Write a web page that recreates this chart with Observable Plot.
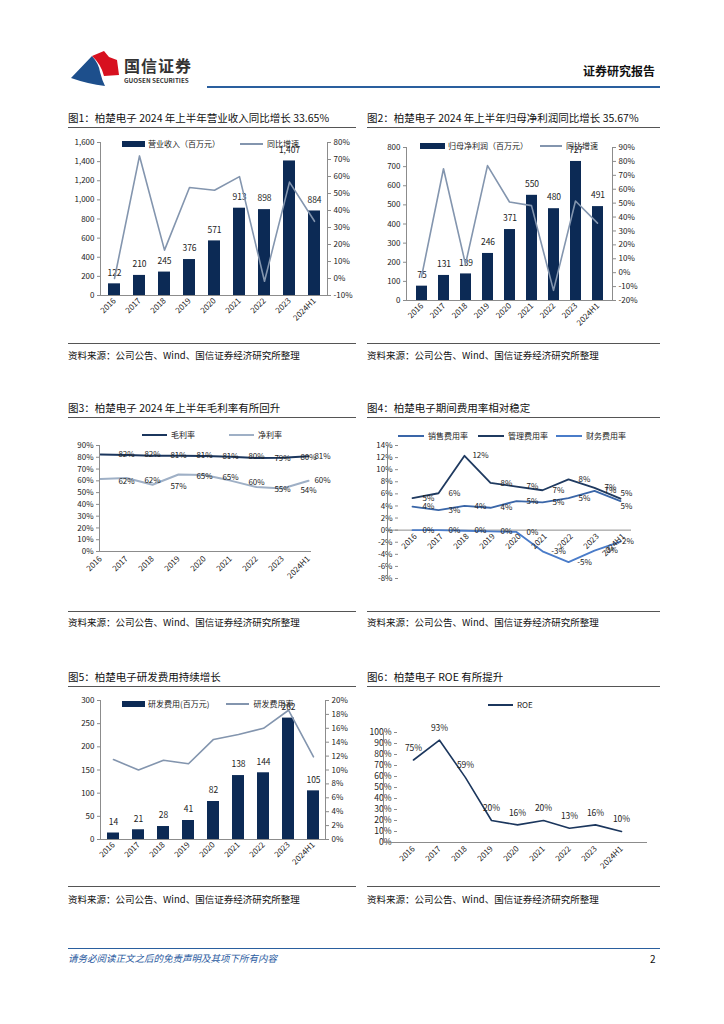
<!DOCTYPE html>
<html><head><meta charset="utf-8">
<script src="https://cdn.jsdelivr.net/npm/d3@7"></script>
<script src="https://cdn.jsdelivr.net/npm/@observablehq/plot@0.6"></script>
<style>
body{margin:0;background:#fff;font-family:"Noto Sans CJK SC","Noto Sans",sans-serif;}
#page{position:relative;width:724px;height:1024px;overflow:hidden;background:#fff;}
.abs{position:absolute;white-space:nowrap;}
.ptitle{font-size:10.5px;color:#111;line-height:14px;}
.rule{position:absolute;height:0;border-top:1px solid #555;}
.src{font-size:9.5px;color:#111;line-height:12px;}
.legend{position:absolute;font-size:8px;color:#222;white-space:nowrap;display:flex;align-items:center;line-height:10px;}
.sw-bar{display:inline-block;width:23px;height:6px;background:#0c2a55;margin-right:3px;}
.sw-line{display:inline-block;width:23px;height:0;border-top:2px solid #000;margin-right:4px;}
.gap{display:inline-block;}
</style>
</head>
<body>
<div id="page">
  <!-- header -->
  <svg class="abs" style="left:66px;top:48px" width="56" height="40" viewBox="66 48 56 40">
    <path d="M71,78 L92,56 Q99,64 100,72 Q102,80 105,86 Q88,84 71,78 Z" fill="#1d4f8c"/>
    <path d="M92,56 L104,51 L109,57 L117,60 L119,75 L104,76 Q101,64 92,56 Z" fill="#d7101f"/>
  </svg>
  <div class="abs" style="left:124px;top:53px;font-size:16px;font-weight:bold;color:#333;letter-spacing:1px;">国信证券</div>
  <div class="abs" style="left:124px;top:76px;font-size:6.3px;font-weight:bold;color:#333;">GUOSEN SECURITIES</div>
  <div class="abs" style="right:69px;top:62px;font-size:12px;font-weight:bold;color:#111;">证券研究报告</div>
  <div class="abs" style="left:207px;top:86px;width:453px;height:2px;background:#2a5f9e;"></div>

  <!-- row 1 -->
  <div class="abs ptitle" style="left:68px;top:111px;">图1：柏楚电子 2024 年上半年营业收入同比增长 33.65%</div>
  <div class="abs ptitle" style="left:367px;top:111px;">图2：柏楚电子 2024 年上半年归母净利润同比增长 35.67%</div>
  <div class="rule" style="left:68px;top:127px;width:288px;"></div>
  <div class="rule" style="left:367px;top:127px;width:293px;"></div>
  <div class="rule" style="left:68px;top:343px;width:288px;"></div>
  <div class="rule" style="left:367px;top:343px;width:293px;"></div>
  <div class="abs src" style="left:68px;top:349px;">资料来源：公司公告、Wind、国信证券经济研究所整理</div>
  <div class="abs src" style="left:367px;top:349px;">资料来源：公司公告、Wind、国信证券经济研究所整理</div>

  <!-- row 2 -->
  <div class="abs ptitle" style="left:68px;top:401px;">图3：柏楚电子 2024 年上半年毛利率有所回升</div>
  <div class="abs ptitle" style="left:367px;top:401px;">图4：柏楚电子期间费用率相对稳定</div>
  <div class="rule" style="left:68px;top:417px;width:288px;"></div>
  <div class="rule" style="left:367px;top:417px;width:293px;"></div>
  <div class="rule" style="left:68px;top:611px;width:288px;"></div>
  <div class="rule" style="left:367px;top:611px;width:293px;"></div>
  <div class="abs src" style="left:68px;top:616px;">资料来源：公司公告、Wind、国信证券经济研究所整理</div>
  <div class="abs src" style="left:367px;top:616px;">资料来源：公司公告、Wind、国信证券经济研究所整理</div>

  <!-- row 3 -->
  <div class="abs ptitle" style="left:68px;top:670px;">图5：柏楚电子研发费用持续增长</div>
  <div class="abs ptitle" style="left:367px;top:670px;">图6：柏楚电子 ROE 有所提升</div>
  <div class="rule" style="left:68px;top:686px;width:288px;"></div>
  <div class="rule" style="left:367px;top:686px;width:293px;"></div>
  <div class="rule" style="left:68px;top:886px;width:288px;"></div>
  <div class="rule" style="left:367px;top:886px;width:293px;"></div>
  <div class="abs src" style="left:68px;top:893px;">资料来源：公司公告、Wind、国信证券经济研究所整理</div>
  <div class="abs src" style="left:367px;top:893px;">资料来源：公司公告、Wind、国信证券经济研究所整理</div>

  <!-- footer -->
  <div class="abs" style="left:68px;top:948px;width:592px;height:0;border-top:1px solid #2a5f9e;"></div>
  <div class="abs" style="left:68px;top:951px;font-size:9.5px;font-style:italic;color:#2a5aa0;">请务必阅读正文之后的免责声明及其项下所有内容</div>
  <div class="abs" style="left:650px;top:951px;font-size:10px;color:#111;">2</div>
</div>
<script>
// ---------------- data ----------------
const years = ["2016","2017","2018","2019","2020","2021","2022","2023","2024H1"];

const revenue = [122, 210, 245, 376, 571, 913, 898, 1407, 884];           // 百万元
const revenueGrowth = [0, 72.1, 16.7, 53.5, 51.9, 59.9, -1.6, 56.7, 33.65]; // %
const revenueTicks = [0, 200, 400, 600, 800, 1000, 1200, 1400, 1600];
const revenueGrowthTicks = [-10, 0, 10, 20, 30, 40, 50, 60, 70, 80];

const netProfit = [75, 131, 139, 246, 371, 550, 480, 727, 491];
const netProfitGrowth = [-3, 74.7, 6.1, 77.0, 50.8, 48.2, -12.7, 51.5, 35.67];
const netProfitTicks = [0, 100, 200, 300, 400, 500, 600, 700, 800];
const netProfitGrowthTicks = [-20, -10, 0, 10, 20, 30, 40, 50, 60, 70, 80, 90];

const grossMargin = [82.3, 82.0, 81.4, 81.4, 81.1, 80.4, 79.4, 79.7, 80.8];
const netMargin = [61.5, 62.4, 56.7, 65.4, 65.0, 60.2, 54.7, 53.5, 60.0];
const marginTicks = [0, 10, 20, 30, 40, 50, 60, 70, 80, 90];

const salesRate = [3.9, 3.3, 4.0, 3.7, 4.8, 4.6, 5.3, 6.5, 4.8];
const adminRate = [5.3, 6.1, 12.3, 7.8, 7.2, 6.6, 8.4, 7.0, 5.2];
const financeRate = [0, 0, -0.1, -0.2, -0.3, -3.5, -5.3, -3.4, -1.9];
const expenseTicks = [-8, -6, -4, -2, 0, 2, 4, 6, 8, 10, 12, 14];

const rdExpense = [14, 21, 28, 41, 82, 138, 144, 262, 105];
const rdRate = [11.5, 10.0, 11.4, 10.9, 14.4, 15.1, 16.0, 18.6, 11.9];
const rdTicks = [0, 50, 100, 150, 200, 250, 300];
const rdRateTicks = [0, 2, 4, 6, 8, 10, 12, 14, 16, 18, 20];

const roe = [75, 93, 59, 20, 16, 20, 13, 16, 10];
const roeTicks = [0, 10, 20, 30, 40, 50, 60, 70, 80, 90, 100];

// ---------------- helpers ----------------
const page = document.getElementById("page");
const FONT = '"Noto Sans CJK SC","Noto Sans",sans-serif';
const NAVY = "#0c2a55";
const GRAYBLUE = "#8395ae";
const AXIS = "#8c8c8c";
const baseStyle = {fontFamily: FONT, fontSize: "8px", color: "#222", background: "transparent", overflow: "visible"};
const pct = d => d + "%";
const pctR = v => Math.round(v) + "%";

function place(svg, g) {
  svg.style.position = "absolute";
  svg.style.left = g.left + "px";
  svg.style.top = g.top + "px";
  page.appendChild(svg);
}
function frameOpts(g) {
  return {width: g.width, height: g.height, marginLeft: g.marginLeft, marginRight: g.marginRight,
          marginTop: g.marginTop, marginBottom: g.marginBottom, style: baseStyle};
}
function legend(left, top, items) {
  const div = document.createElement("div");
  div.className = "legend";
  div.style.left = left + "px";
  div.style.top = top + "px";
  items.forEach((it, i) => {
    const sw = document.createElement("span");
    if (it.type === "bar") { sw.className = "sw-bar"; sw.style.background = it.color; sw.style.width = it.w + "px"; }
    else { sw.className = "sw-line"; sw.style.borderTopColor = it.color; sw.style.width = it.w + "px"; }
    const tx = document.createElement("span");
    tx.textContent = it.label;
    div.appendChild(sw); div.appendChild(tx);
    if (i < items.length - 1) { const g = document.createElement("span"); g.className = "gap"; g.style.width = it.gap + "px"; div.appendChild(g); }
  });
  page.appendChild(div);
}
const bandX = {domain: years, paddingInner: 0.52, paddingOuter: 0.26, label: null};

function barLineChart(g, barVals, lineVals, yDomain, yTicks, y2Domain, y2Ticks, barFmt) {
  const t = years.map((year, i) => ({year, v: barVals[i], g: lineVals[i]}));
  place(Plot.plot({...frameOpts(g), x: bandX, y: {domain: yDomain, label: null},
    marks: [
      Plot.barY(t, {x: "year", y: "v", fill: NAVY}),
      Plot.text(t, {x: "year", y: "v", text: d => barFmt(d.v), dy: -11, fontSize: 8.5, fill: "#222"}),
      Plot.axisY({ticks: yTicks, tickFormat: d3.format(","), tickSize: 3, tickPadding: 3, stroke: AXIS, label: null}),
      Plot.axisX({tickRotate: -45, tickSize: 0, tickPadding: 4, label: null}),
      Plot.ruleY([yDomain[0]], {stroke: AXIS}),
      Plot.frame({anchor: "left", stroke: AXIS})
    ]}), g);
  place(Plot.plot({...frameOpts(g), x: {...bandX, axis: null}, y: {domain: y2Domain, label: null},
    marks: [
      Plot.lineY(t, {x: "year", y: "g", stroke: GRAYBLUE, strokeWidth: 1.6}),
      Plot.axisY({anchor: "right", ticks: y2Ticks, tickFormat: pct, tickSize: 3, tickPadding: 3, stroke: AXIS, label: null}),
      Plot.frame({anchor: "right", stroke: AXIS})
    ]}), g);
}

// ---------------- chart 1 ----------------
const G1 = {left: 60, top: 130, width: 300, height: 205, marginLeft: 40, marginRight: 33, marginTop: 12, marginBottom: 40};
barLineChart(G1, revenue, revenueGrowth, [0, 1600], revenueTicks, [-10, 80], revenueGrowthTicks, d3.format(","));
legend(122, 139, [{type: "bar", color: NAVY, w: 23, label: "营业收入（百万元）", gap: 20},
                  {type: "line", color: GRAYBLUE, w: 23, label: "同比增速"}]);

// ---------------- chart 2 ----------------
const G2 = {left: 365, top: 130, width: 300, height: 210, marginLeft: 41, marginRight: 53, marginTop: 17, marginBottom: 40};
barLineChart(G2, netProfit, netProfitGrowth, [0, 800], netProfitTicks, [-20, 90], netProfitGrowthTicks, d3.format(","));
legend(420, 141, [{type: "bar", color: NAVY, w: 25, label: "归母净利润（百万元）", gap: 12},
                  {type: "line", color: GRAYBLUE, w: 22, label: "同比增速"}]);

// ---------------- chart 3 ----------------
const G3 = {left: 60, top: 425, width: 300, height: 175, marginLeft: 39, marginRight: 52, marginTop: 20, marginBottom: 49};
const t3 = years.map((year, i) => ({year, gm: grossMargin[i], nm: netMargin[i]}));
const GM_COLOR = "#1b365d", NM_COLOR = "#9fb0c6";
const last = (d, i) => i === years.length - 1;
const notLast = (d, i) => i < years.length - 1;
place(Plot.plot({...frameOpts(G3),
  x: {type: "point", domain: years, padding: 0, label: null}, y: {domain: [0, 90], label: null},
  marks: [
    Plot.lineY(t3, {x: "year", y: "nm", stroke: NM_COLOR, strokeWidth: 2}),
    Plot.lineY(t3, {x: "year", y: "gm", stroke: GM_COLOR, strokeWidth: 2}),
    Plot.text(t3, {filter: notLast, x: "year", y: "gm", text: d => pctR(d.gm), dx: 26, fontSize: 8, fill: "#222"}),
    Plot.text(t3, {filter: last, x: "year", y: "gm", text: d => pctR(d.gm), dx: 14, fontSize: 8, fill: "#222"}),
    Plot.text(t3, {filter: notLast, x: "year", y: "nm", text: d => pctR(d.nm), dx: 26, dy: 2, fontSize: 8, fill: "#222"}),
    Plot.text(t3, {filter: last, x: "year", y: "nm", text: d => pctR(d.nm), dx: 14, fontSize: 8, fill: "#222"}),
    Plot.axisY({ticks: marginTicks, tickFormat: pct, tickSize: 3, tickPadding: 3, stroke: AXIS, label: null}),
    Plot.axisX({tickRotate: -45, tickSize: 0, tickPadding: 6, label: null}),
    Plot.ruleY([0], {stroke: AXIS, insetRight: -3}),
    Plot.frame({anchor: "left", stroke: AXIS})
  ]}), G3);
legend(142, 430, [{type: "line", color: GM_COLOR, w: 25, label: "毛利率", gap: 34},
                  {type: "line", color: NM_COLOR, w: 25, label: "净利率"}]);

// ---------------- chart 4 ----------------
const G4 = {left: 365, top: 425, width: 300, height: 175, marginLeft: 33, marginRight: 38, marginTop: 20, marginBottom: 22};
const t4 = years.map((year, i) => ({year, s: salesRate[i], a: adminRate[i], f: financeRate[i]}));
const SALES_C = "#3a66a8", ADMIN_C = "#1f3a60", FIN_C = "#4a7cc9";
const lbl4 = (key, lastDy) => [
  Plot.text(t4, {filter: notLast, x: "year", y: key, text: d => pctR(d[key]), dx: 16, fontSize: 8, fill: "#222"}),
  Plot.text(t4, {filter: last, x: "year", y: key, text: d => pctR(d[key]), dx: 6, dy: lastDy, fontSize: 8, fill: "#222"})
];
place(Plot.plot({...frameOpts(G4),
  x: {type: "point", domain: years, padding: 0, label: null, axis: null}, y: {domain: [-8, 14], label: null},
  insetLeft: 11, insetRight: 4,
  marks: [
    Plot.ruleY([0], {stroke: AXIS, insetLeft: -11, insetRight: -4}),
    Plot.lineY(t4, {x: "year", y: "f", stroke: FIN_C, strokeWidth: 1.8}),
    Plot.lineY(t4, {x: "year", y: "s", stroke: SALES_C, strokeWidth: 1.8}),
    Plot.lineY(t4, {x: "year", y: "a", stroke: ADMIN_C, strokeWidth: 1.8}),
    ...lbl4("a", -5), ...lbl4("s", 5), ...lbl4("f", 0),
    Plot.text(years, {x: d => d, y: () => 0, text: d => d, rotate: -45, textAnchor: "end", dx: 3, dy: 5, fontSize: 8, fill: "#222"}),
    Plot.axisY({ticks: expenseTicks, tickFormat: pct, tickSize: 3, tickPadding: 3, stroke: AXIS, label: null}),
    Plot.frame({anchor: "left", stroke: AXIS, insetLeft: -11})
  ]}), G4);
legend(398, 431, [{type: "line", color: SALES_C, w: 26, label: "销售费用率", gap: 10},
                  {type: "line", color: ADMIN_C, w: 26, label: "管理费用率", gap: 8},
                  {type: "line", color: FIN_C, w: 26, label: "财务费用率"}]);

// ---------------- chart 5 ----------------
const G5 = {left: 60, top: 690, width: 300, height: 190, marginLeft: 40, marginRight: 35, marginTop: 10, marginBottom: 41};
barLineChart(G5, rdExpense, rdRate, [0, 300], rdTicks, [0, 20], rdRateTicks, d3.format(","));
legend(122, 699, [{type: "bar", color: NAVY, w: 23, label: "研发费用(百万元)", gap: 17},
                  {type: "line", color: GRAYBLUE, w: 23, label: "研发费用率"}]);

// ---------------- chart 6 ----------------
const G6 = {left: 365, top: 690, width: 300, height: 190, marginLeft: 32, marginRight: 30, marginTop: 42, marginBottom: 38};
const t6 = years.map((year, i) => ({year, r: roe[i]}));
const ROE_C = "#1b365d";
place(Plot.plot({...frameOpts(G6),
  x: {type: "point", domain: years, padding: 0, label: null}, y: {domain: [0, 100], label: null},
  insetLeft: 14, insetRight: 12,
  marks: [
    Plot.lineY(t6, {x: "year", y: "r", stroke: ROE_C, strokeWidth: 1.6}),
    Plot.text(t6, {x: "year", y: "r", text: d => pctR(d.r), dy: -12, fontSize: 8.5, fill: "#222"}),
    Plot.axisY({ticks: roeTicks, tickFormat: pct, tickSize: 3, tickPadding: 3, stroke: AXIS, fontSize: 8.5, label: null}),
    Plot.axisX({tickRotate: -45, tickSize: 0, tickPadding: 5, label: null}),
    Plot.ruleY([0], {stroke: AXIS, insetLeft: -14, insetRight: -12}),
    Plot.frame({anchor: "left", stroke: AXIS, insetLeft: -14})
  ]}), G6);
legend(488, 700, [{type: "line", color: ROE_C, w: 25, label: "ROE"}]);
</script>
</body></html>
